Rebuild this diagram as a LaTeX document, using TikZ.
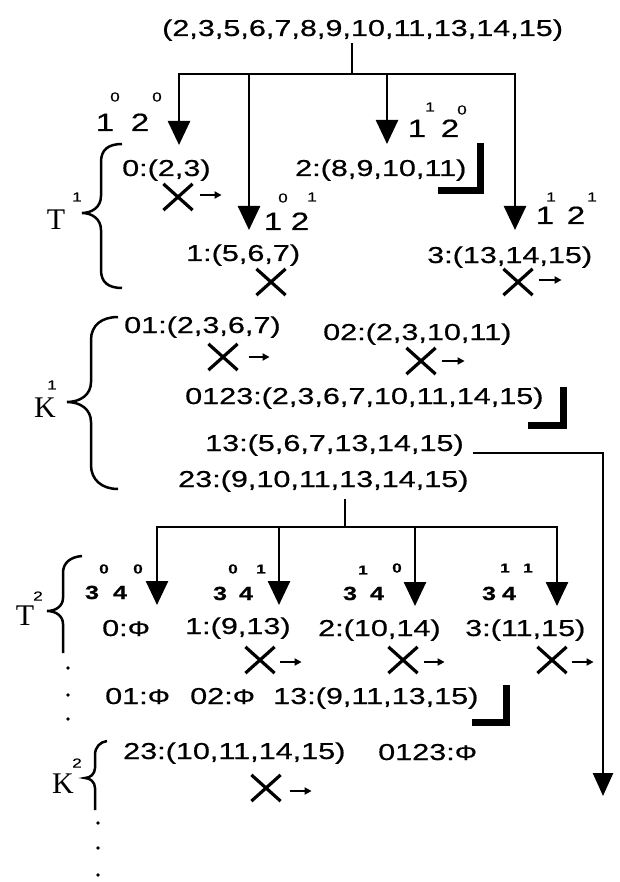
\documentclass[tikz,border=0pt]{standalone}
\usepackage{fontspec}
\setmainfont{Liberation Sans}[FakeStretch=1.33,FakeBold=0.6]
\newfontfamily\serfont{Liberation Serif}
\usetikzlibrary{arrows.meta,shapes.misc}
\newcommand\labfont{\fontsize{23}{27}\selectfont}
\newcommand\grpfont{\fontsize{25}{28}\selectfont}
\newcommand\bgrpfont{\fontsize{19}{22}\selectfont\bfseries}
\newcommand\supfont{\fontsize{13}{15}\selectfont}
\newcommand\bsupfont{\fontsize{13}{15}\selectfont\bfseries}
\newcommand\tkfont{\serfont\fontsize{30}{32}\selectfont}
\newcommand\phisym{{\fontsize{21}{22}\selectfont Φ}}
\begin{document}
\begin{tikzpicture}[x=1pt,y=-1pt,
 lab/.style={font=\labfont, inner sep=0pt, anchor=base west},
 dg/.style={font=\grpfont, inner sep=0pt, anchor=base},
 bdg/.style={font=\bgrpfont, inner sep=0pt, anchor=base},
 sp/.style={font=\supfont, inner sep=0pt},
 bsp/.style={font=\bsupfont, inner sep=0pt},
 tk/.style={font=\tkfont, inner sep=0pt, anchor=base},
 ln/.style={line width=2.6pt},
 arr/.style={line width=2.6pt, -{Triangle[width=22pt,length=24pt]}},
 sarr/.style={line width=2pt, -{Triangle[width=7pt,length=7pt]}},
 xm/.style={cross out, draw, line width=3.2pt, inner sep=0pt, minimum width=26pt, minimum height=23pt},
 corner/.style={line width=7pt},
 brc/.style={line width=2.5pt},
 dot/.style={circle, fill, inner sep=0pt, minimum size=3.6pt}]
\useasboundingbox (0,0) rectangle (620,882);

% ---------- first tree ----------
\node[lab] (top) at (162,36) {(2,3,5,6,7,8,9,10,11,13,14,15)};
\coordinate (s1) at (352,43);
\coordinate (j1) at (352,74);
\coordinate (b1) at (179,74);
\coordinate (b2) at (249,74);
\coordinate (b3) at (387,74);
\coordinate (b4) at (515,74);
\coordinate (t1) at (179,145);
\coordinate (t2) at (249,230);
\coordinate (t3) at (387,144);
\coordinate (t4) at (515,230);
\draw[ln] (s1) -- (j1);
\draw[arr] (j1) -- (b1) -- (t1);
\draw[arr] (j1) -- (b4) -- (t4);
\draw[arr] (b2) -- (t2);
\draw[arr] (b3) -- (t3);

% exponent groups
\node[dg] (g1a) at (105,131) {1}; \node[sp] (g1as) at (115,97) {0};
\node[dg] (g1b) at (140,131) {2}; \node[sp] (g1bs) at (157,97) {0};
\node[dg] (g2a) at (273,230) {1}; \node[sp] (g2as) at (283,198) {0};
\node[dg] (g2b) at (300,230) {2}; \node[sp] (g2bs) at (312,197) {1};
\node[dg] (g3a) at (417,137) {1}; \node[sp] (g3as) at (430,107) {1};
\node[dg] (g3b) at (450,137) {2}; \node[sp] (g3bs) at (462,110) {0};
\node[dg] (g4a) at (545,224) {1}; \node[sp] (g4as) at (551,197) {1};
\node[dg] (g4b) at (576,224) {2}; \node[sp] (g4bs) at (592,197) {1};

\node[lab] (l0) at (122,176) {0:(2,3)};
\node[lab] (l2) at (295,176) {2:(8,9,10,11)};
\node[lab] (l1) at (186,261) {1:(5,6,7)};
\node[lab] (l3) at (427,263) {3:(13,14,15)};
\node[xm] (x0) at (178,197) {};
\draw[sarr] ([xshift=7pt,yshift=2pt]x0.east) -- ++(22,0);
\node[xm] (x1) at (271,282) {};
\node[xm] (x3) at (518,282) {};
\draw[sarr] ([xshift=6pt,yshift=2pt]x3.east) -- ++(23,0);
\draw[corner] (480,143) |- (438,191);

% T1 brace
\draw[brc] (122,144) .. controls (108,144) and (101,150) .. (101,162) -- (101,196)
  .. controls (101,207) and (92,213) .. (82,213)
  .. controls (92,213) and (101,219) .. (101,230) -- (101,270)
  .. controls (101,282) and (108,288) .. (122,288);
\node[tk] (T1) at (56,230) {T};
\node[sp] (T1s) at (77,197) {1};

% ---------- K1 ----------
\draw[brc] (118,317) .. controls (102,317) and (91,325) .. (91,340) -- (91,382)
  .. controls (91,395) and (80,402) .. (67,402)
  .. controls (80,402) and (91,409) .. (91,422) -- (91,465)
  .. controls (91,480) and (102,489) .. (118,489);
\node[tk] (K1) at (45,417) {K};
\node[sp] (K1s) at (52,385) {1};

\node[lab] (k01) at (124,333) {01:(2,3,6,7)};
\node[lab] (k02) at (323,340) {02:(2,3,10,11)};
\node[xm] (xk01) at (223,357) {};
\draw[sarr] ([xshift=11pt]xk01.east) -- ++(21,0);
\node[xm] (xk02) at (421,361) {};
\draw[sarr] ([xshift=6pt]xk02.east) -- ++(23,0);
\node[lab] (k0123) at (185,404) {0123:(2,3,6,7,10,11,14,15)};
\draw[corner] (563.5,387) |- (528,425.5);
\node[lab] (k13) at (205,451) {13:(5,6,7,13,14,15)};
\node[lab] (k23) at (178,487) {23:(9,10,11,13,14,15)};
\coordinate (a13) at (473,453);
\coordinate (e13) at (603,796);
\draw[line width=2.6pt, -{Triangle[width=20pt,length=23pt]}] (a13) -| (e13);

% ---------- second tree ----------
\coordinate (s2) at (345,499);
\coordinate (j2) at (345,527);
\coordinate (c1) at (157,527);
\coordinate (c2) at (279,527);
\coordinate (c3) at (415,527);
\coordinate (c4) at (557,527);
\coordinate (u1) at (157,605);
\coordinate (u2) at (279,605);
\coordinate (u3) at (415,606);
\coordinate (u4) at (557,606);
\draw[ln] (s2) -- (j2);
\draw[arr] (j2) -- (c1) -- (u1);
\draw[arr] (j2) -- (c4) -- (u4);
\draw[arr] (c2) -- (u2);
\draw[arr] (c3) -- (u3);

\node[bdg] (h1a) at (92,599) {3}; \node[bsp] (h1as) at (104,569) {0};
\node[bdg] (h1b) at (120,599) {4}; \node[bsp] (h1bs) at (138,569) {0};
\node[bdg] (h2a) at (220,600) {3}; \node[bsp] (h2as) at (233,569) {0};
\node[bdg] (h2b) at (246,600) {4}; \node[bsp] (h2bs) at (261,569) {1};
\node[bdg] (h3a) at (350,600) {3}; \node[bsp] (h3as) at (363,570) {1};
\node[bdg] (h3b) at (377,600) {4}; \node[bsp] (h3bs) at (397,568) {0};
\node[bdg] (h4a) at (489,600) {3}; \node[bsp] (h4as) at (505,568) {1};
\node[bdg] (h4b) at (509,600) {4}; \node[bsp] (h4bs) at (528,568) {1};

\node[lab] (m0) at (102,636) {0:\phisym};
\node[lab] (m1) at (185,634) {1:(9,13)};
\node[lab] (m2) at (318,636) {2:(10,14)};
\node[lab] (m3) at (465,636) {3:(11,15)};
\node[xm] (xm1) at (260,660) {};
\draw[sarr] ([xshift=5pt,yshift=-2pt]xm1.east) -- ++(22,0);
\node[xm] (xm2) at (403,660) {};
\draw[sarr] ([xshift=6pt,yshift=-2pt]xm2.east) -- ++(21,0);
\node[xm] (xm3) at (552,660) {};
\draw[sarr] ([xshift=5pt,yshift=-2pt]xm3.east) -- ++(22,0);

% T2 brace
\draw[brc] (82,556) .. controls (70,557) and (63,563) .. (63,573) -- (63,598)
  .. controls (63,606) and (56,611) .. (47,611)
  .. controls (56,611) and (63,616) .. (63,624) -- (63,653);
\node[tk] (T2) at (25,625) {T};
\node[sp] (T2s) at (38,596) {2};
\node[dot] (d1) at (68,668) {};
\node[dot] (d2) at (68,695) {};
\node[dot] (d3) at (68,719) {};

\node[lab] (n01) at (105,704) {01:\phisym};
\node[lab] (n02) at (190,704) {02:\phisym};
\node[lab] (n13) at (273,704) {13:(9,11,13,15)};
\draw[corner] (506.5,685) |- (472,722.5);

% K2 brace
\draw[brc] (107,741) .. controls (100,742) and (95,747) .. (95,755) -- (95,768)
  .. controls (95,774) and (90,778) .. (85,778)
  .. controls (90,778) and (95,782) .. (95,788) -- (95,810);
\node[tk] (K2) at (63,793) {K};
\node[sp] (K2s) at (77,763) {2};
\node[lab] (p23) at (123,759) {23:(10,11,14,15)};
\node[lab] (p0123) at (378,760) {0123:\phisym};
\node[xm] (xp23) at (266,788) {};
\draw[sarr] ([xshift=9pt,yshift=-3pt]xp23.east) -- ++(22,0);
\node[dot] (d4) at (98,823) {};
\node[dot] (d5) at (98,848) {};
\node[dot] (d6) at (98,875) {};
\end{tikzpicture}
\end{document}
